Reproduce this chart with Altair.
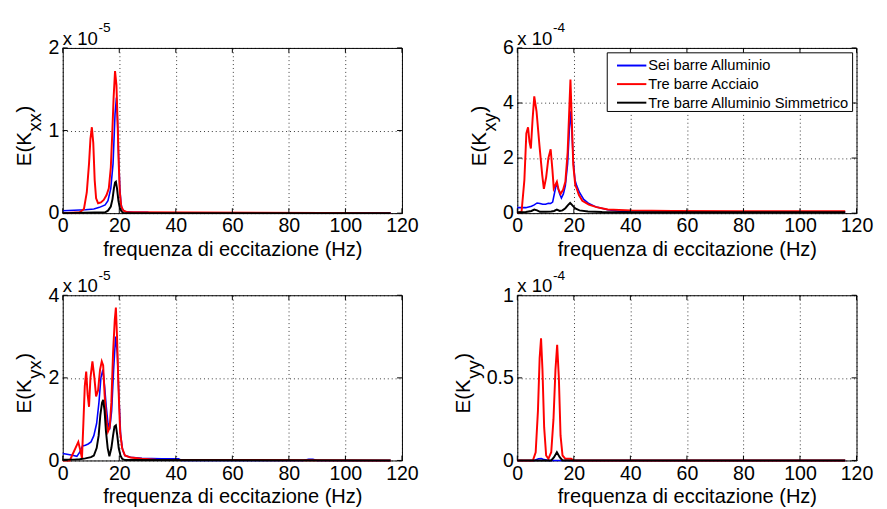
import altair as alt
import pandas as pd

FONT = "Liberation Sans"
W, H = 347, 169

x_ticks = [0, 20, 40, 60, 80, 100, 120]

# ---- E(Kxx)  (x 1e-5) ----
kxx_ticks = [0, 1, 2]
kxx_blue_f = [0, 4, 8, 11, 13, 15, 16, 17, 17.8, 18.5, 19.0, 19.4, 19.8, 20.2, 20.6, 21, 22, 25, 30, 31, 116]
kxx_blue_v = [0.03, 0.035, 0.04, 0.05, 0.07, 0.1, 0.15, 0.3, 0.6, 1.2, 1.4, 1.1, 0.65, 0.3, 0.12, 0.05, 0.02, 0.01, 0.01, 0.0, 0.0]
kxx_red_f = [0, 6, 7.5, 8.5, 9.3, 9.8, 10.3, 10.8, 11.3, 11.8, 12.5, 13.5, 14.5, 15.5, 16.3, 17, 17.5, 18, 18.5, 19, 19.4, 19.8, 20.2, 20.7, 21.5, 23, 116]
kxx_red_v = [0, 0.01, 0.05, 0.25, 0.6, 0.9, 1.04, 0.85, 0.4, 0.18, 0.12, 0.13, 0.16, 0.22, 0.3, 0.55, 0.95, 1.4, 1.72, 1.55, 1.1, 0.6, 0.25, 0.08, 0.03, 0.01, 0.0]
kxx_black_f = [0, 15, 16, 17, 17.6, 18.1, 18.5, 18.8, 19.2, 19.7, 20.2, 20.8, 21.5, 116]
kxx_black_v = [0, 0.01, 0.03, 0.08, 0.17, 0.3, 0.37, 0.38, 0.3, 0.15, 0.06, 0.02, 0.0, 0.0]

# ---- E(Kxy)  (x 1e-4) ----
kxy_ticks = [0, 2, 4, 6]
kxy_blue_f = [0, 3, 5, 6, 7, 8, 9, 10, 11, 11.8, 12.5, 13.2, 13.8, 14.3, 15, 15.6, 16.3, 17, 17.8, 18.4, 18.9, 19.3, 19.8, 20.4, 21, 22, 23.5, 25.3, 28, 32, 36, 40, 50, 116]
kxy_blue_v = [0.2, 0.2, 0.25, 0.3, 0.37, 0.35, 0.32, 0.32, 0.36, 0.35, 0.4, 0.75, 1.05, 0.95, 0.7, 0.55, 0.7, 1.0, 1.8, 3.0, 3.7, 3.0, 1.9, 1.2, 1.0, 0.75, 0.5, 0.35, 0.22, 0.12, 0.07, 0.04, 0.03, 0.03]
kxy_red_f = [0, 1.5, 2.5, 3.2, 3.8, 4.3, 4.8, 5.4, 6.0, 6.8, 7.8, 8.8, 9.4, 10.2, 11.0, 11.8, 12.4, 12.9, 14.0, 14.6, 15.3, 16.2, 17.0, 17.8, 18.4, 18.8, 19.2, 19.8, 20.5, 21.0, 21.8, 23, 25.3, 28, 32, 40, 55, 80, 116]
kxy_red_v = [0.0, 0.05, 1.2, 2.9, 3.12, 2.6, 2.35, 3.4, 4.24, 3.7, 2.5, 1.4, 0.88, 1.3, 2.0, 2.32, 1.6, 0.9, 1.14, 0.85, 0.7, 0.85, 1.14, 2.2, 3.8, 4.85, 3.6, 1.75, 1.02, 0.9, 0.66, 0.45, 0.31, 0.22, 0.13, 0.1, 0.08, 0.07, 0.07]
kxy_black_f = [0, 3, 5, 6, 7, 8, 10, 12, 13, 14, 15, 16, 17, 18, 18.7, 19.5, 20.5, 22, 25, 30, 40, 116]
kxy_black_v = [0.03, 0.04, 0.08, 0.13, 0.1, 0.05, 0.05, 0.06, 0.08, 0.13, 0.08, 0.1, 0.18, 0.3, 0.37, 0.28, 0.17, 0.1, 0.06, 0.04, 0.03, 0.03]

# ---- E(Kyx)  (x 1e-5) ----
kyx_ticks = [0, 2, 4]
kyx_blue_f = [0, 3, 5, 6, 7, 8, 9, 10, 11, 12, 12.8, 13.5, 14.2, 14.8, 15.4, 16, 16.6, 17.3, 18, 18.7, 19.3, 19.9, 20.5, 21.2, 22, 24, 28, 35, 41, 42, 85, 87, 88.5, 90, 116]
kyx_blue_v = [0.17, 0.13, 0.1, 0.2, 0.35, 0.37, 0.4, 0.45, 0.6, 0.9, 1.4, 2.0, 2.2, 1.8, 1.3, 0.9, 0.75, 1.2, 2.2, 3.0, 2.6, 1.5, 0.6, 0.25, 0.12, 0.08, 0.05, 0.04, 0.04, 0.0, 0.0, 0.03, 0.03, 0.0, 0.0]
kyx_red_f = [0, 2.5, 3.5, 4.5, 5.5, 6.2, 6.8, 7.3, 7.8, 8.3, 8.8, 9.3, 9.8, 10.5, 11.2, 11.8, 12.5, 13.2, 13.8, 14.3, 14.8, 15.4, 16, 16.6, 17.2, 17.8, 18.4, 18.8, 19.2, 19.7, 20.3, 21, 22, 24, 28, 33, 116]
kyx_red_v = [0, 0.0, 0.15, 0.3, 0.45, 0.25, 0.05, 0.9, 1.8, 2.15, 1.6, 1.3, 2.0, 2.4, 2.0, 1.55, 1.7, 2.2, 2.4, 2.3, 1.6, 1.0, 0.7, 0.8, 1.4, 2.6, 3.4, 3.7, 3.0, 1.8, 0.7, 0.3, 0.12, 0.07, 0.04, 0.02, 0.0]
kyx_black_f = [0, 4, 6, 8, 10, 11, 12, 12.7, 13.3, 13.9, 14.3, 14.8, 15.3, 15.9, 16.5, 17.2, 17.8, 18.3, 18.8, 19.3, 19.8, 20.4, 21, 22, 116]
kyx_black_v = [0.02, 0.02, 0.03, 0.05, 0.08, 0.12, 0.3, 0.6, 1.1, 1.4, 1.47, 1.2, 0.7, 0.3, 0.1, 0.3, 0.6, 0.82, 0.85, 0.6, 0.3, 0.12, 0.04, 0.01, 0.0]

# ---- E(Kyy)  (x 1e-4) ----
kyy_ticks = [0, 0.5, 1]
kyy_blue_f = [0, 6, 7.5, 8.5, 9.5, 11, 116]
kyy_blue_v = [0, 0, 0.01, 0.012, 0.005, 0, 0]
kyy_red_f = [0, 5.5, 6.5, 7.3, 7.9, 8.4, 8.9, 9.5, 10.2, 11, 12, 12.8, 13.5, 14.1, 14.7, 15.3, 16, 17, 19, 20, 116]
kyy_red_v = [0, 0.0, 0.05, 0.3, 0.62, 0.74, 0.55, 0.2, 0.03, 0.01, 0.05, 0.25, 0.55, 0.70, 0.5, 0.15, 0.03, 0.01, 0.01, 0.0, 0.0]
kyy_black_f = [0, 12, 13, 14, 15, 16, 116]
kyy_black_v = [0, 0, 0.02, 0.05, 0.02, 0, 0]

legend_names = ["Sei barre Alluminio", "Tre barre Acciaio", "Tre barre Alluminio Simmetrico"]
legend_colors = ["#0000ff", "#ff0000", "#000000"]

ONE = pd.DataFrame({"d": [0]})


def txt(text, x, y, size, angle=0, align="left", baseline="alphabetic"):
    kw = dict(text=text, align=align, baseline=baseline, font=FONT, fontSize=size, color="black")
    if angle:
        kw["angle"] = angle
    return alt.Chart(ONE).mark_text(**kw).encode(x=alt.value(x), y=alt.value(y))


def panel(series, ymax, yticks, sub, exp, title_x, legend=False):
    X = alt.X("f:Q", scale=alt.Scale(domain=[0, 120], nice=False, zero=False),
              axis=alt.Axis(values=x_ticks, title="frequenza di eccitazione (Hz)", format="~r",
                            grid=True, gridDash=[1, 3], gridColor="#000000", gridOpacity=0.8,
                            domain=False, ticks=False, labelFont=FONT, labelFontSize=20,
                            labelColor="black", labelPadding=3, labelFlush=False,
                            titleFont=FONT, titleFontSize=20.5, titleFontWeight="normal",
                            titleColor="black", titlePadding=4))
    Y = alt.Y("v:Q", scale=alt.Scale(domain=[0, ymax], nice=False, zero=True),
              axis=alt.Axis(values=yticks, title=None, format="~r",
                            grid=True, gridDash=[1, 3], gridColor="#000000", gridOpacity=0.8,
                            domain=False, ticks=False, labelFont=FONT, labelFontSize=20,
                            labelColor="black", labelPadding=4, labelFlush=False))
    layers = []
    for f, v, color, sw in series:
        df = pd.DataFrame({"f": f, "v": v})
        layers.append(alt.Chart(df).mark_line(color=color, strokeWidth=sw).encode(x=X, y=Y))
    xt = pd.DataFrame({"f": x_ticks})
    yt = pd.DataFrame({"v": yticks})
    layers.append(alt.Chart(xt).mark_rule(color="black").encode(x=X, y=alt.value(H), y2=alt.value(H - 5)))
    layers.append(alt.Chart(xt).mark_rule(color="black").encode(x=X, y=alt.value(0), y2=alt.value(5)))
    layers.append(alt.Chart(yt).mark_rule(color="black").encode(y=Y, x=alt.value(0), x2=alt.value(5)))
    layers.append(alt.Chart(yt).mark_rule(color="black").encode(y=Y, x=alt.value(W), x2=alt.value(W - 5)))
    # exponent annotation
    layers.append(txt("x 10", 0, -3, 19))
    layers.append(txt(exp, 36.5, -16, 14))
    # y title  E(K_sub)
    y0 = 121
    layers.append(txt("E(K", title_x, y0, 21, angle=270))
    layers.append(txt(sub, title_x + 10, y0 - 35.5, 19, angle=270))
    layers.append(txt(")", title_x, y0 - 35.5 - 19.5, 21, angle=270))
    if legend:
        layers.append(alt.Chart(ONE).mark_rect(fill="white", stroke="black", strokeWidth=1).encode(
            x=alt.value(92), x2=alt.value(343), y=alt.value(5), y2=alt.value(65)))
        for i, (name, col) in enumerate(zip(legend_names, legend_colors)):
            yy = 18 + 19 * i
            layers.append(alt.Chart(ONE).mark_rule(color=col, strokeWidth=2).encode(
                x=alt.value(102), x2=alt.value(132), y=alt.value(yy)))
            layers.append(txt(name, 134, yy, 15, baseline="middle"))
    return alt.layer(*layers).properties(width=W, height=H)


p1 = panel([(kxx_blue_f, kxx_blue_v, "#0000ff", 1.6), (kxx_red_f, kxx_red_v, "#ff0000", 2),
            (kxx_black_f, kxx_black_v, "#000000", 2)], 2, kxx_ticks, "xx", "-5", -32)
p2 = panel([(kxy_blue_f, kxy_blue_v, "#0000ff", 1.6), (kxy_red_f, kxy_red_v, "#ff0000", 2),
            (kxy_black_f, kxy_black_v, "#000000", 2)], 6, kxy_ticks, "xy", "-4", -32, legend=True)
p3 = panel([(kyx_blue_f, kyx_blue_v, "#0000ff", 1.6), (kyx_red_f, kyx_red_v, "#ff0000", 2),
            (kyx_black_f, kyx_black_v, "#000000", 2)], 4, kyx_ticks, "yx", "-5", -32)
p4 = panel([(kyy_blue_f, kyy_blue_v, "#0000ff", 1.6), (kyy_red_f, kyy_red_v, "#ff0000", 2),
            (kyy_black_f, kyy_black_v, "#000000", 2)], 1, kyy_ticks, "yy", "-4", -48)

chart = alt.concat(p1, p2, p3, p4, columns=2, spacing={"row": 84, "column": 118},
                   bounds="flush").properties(
    padding={"left": 6, "top": 7, "right": 5, "bottom": 5},
    background="white",
).configure_view(stroke="black", strokeWidth=1)

chart.save("out.html", embed_options={"renderer": "svg", "actions": False})
